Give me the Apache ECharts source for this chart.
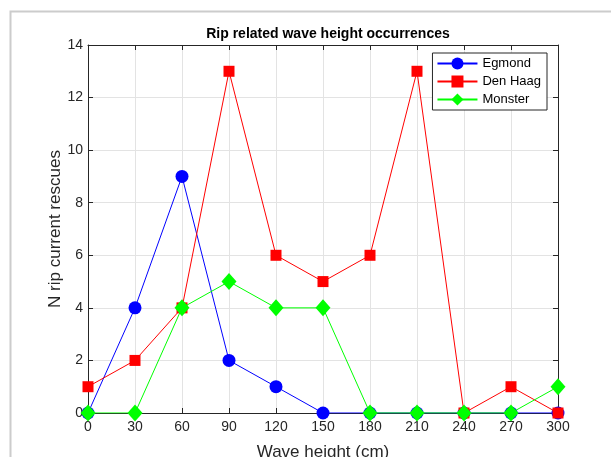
<!DOCTYPE html>
<html><head><meta charset="utf-8">
<script src="https://cdn.jsdelivr.net/npm/echarts@6/dist/echarts.min.js"></script>
<style>html,body{margin:0;padding:0;background:#fff}#c{width:611px;height:457px}</style>
</head><body><div id="c"></div>
<script>
const waveHeights = [0, 30, 60, 90, 120, 150, 180, 210, 240, 270, 300];
const egmond = [0, 4, 9, 2, 1, 0, 0, 0, 0, 0, 0];
const denHaag = [1, 2, 4, 13, 6, 5, 6, 13, 0, 1, 0];
const monster = [0, 0, 4, 5, 4, 4, 0, 0, 0, 0, 1];
const seriesNames = ['Egmond', 'Den Haag', 'Monster'];
const titleText = 'Rip related wave height occurrences';
const xLabel = 'Wave height (cm)';
const yLabel = 'N rip current rescues';

const pair = arr => waveHeights.map((x, i) => [x, arr[i]]);
const font = 'Liberation Sans, Arial, sans-serif';
const axCol = '#262626';
const chart = echarts.init(document.getElementById('c'));
const baseAxis = {
  nameMoveOverlap: false,
  axisLine: {show: true, onZero: false, lineStyle: {color: axCol, width: 1}},
  axisTick: {show: true, inside: true, length: 5, lineStyle: {color: axCol}},
};
chart.setOption({
  animation: false,
  backgroundColor: '#fff',
  graphic: [{type: 'rect', left: 8, top: 9, shape: {width: 700, height: 500}, style: {fill: 'none', stroke: '#cccccc', lineWidth: 2}, z: -1}],
  title: {text: titleText, left: 323, textAlign: 'center', top: 22, textStyle: {fontFamily: font, fontSize: 14, fontWeight: 'bold', color: '#000'}},
  grid: {left: 88, right: 53, top: 45, bottom: 44, containLabel: false, outerBoundsMode: 'none'},
  legend: {
    data: seriesNames, right: 64, top: 53, orient: 'vertical',
    backgroundColor: '#fff', borderColor: axCol, borderWidth: 1,
    padding: [4, 6, 4, 4], itemGap: 5, itemWidth: 40, itemHeight: 15,
    textStyle: {fontFamily: font, fontSize: 13, color: '#000'}
  },
  xAxis: [
    Object.assign({}, baseAxis, {type: 'value', min: 0, max: 300, interval: 30, position: 'bottom',
      name: xLabel, nameLocation: 'middle', nameGap: 31,
      nameTextStyle: {fontFamily: font, fontSize: 17, color: axCol},
      axisLabel: {color: axCol, fontSize: 14, fontFamily: font, margin: 7},
      splitLine: {show: true, lineStyle: {color: '#e3e3e3'}}}),
    Object.assign({}, baseAxis, {type: 'value', min: 0, max: 300, interval: 30, position: 'top',
      axisLabel: {show: false}, splitLine: {show: false}})
  ],
  yAxis: [
    Object.assign({}, baseAxis, {type: 'value', min: 0, max: 14, interval: 2, position: 'left',
      name: yLabel, nameLocation: 'middle', nameGap: 24,
      nameTextStyle: {fontFamily: font, fontSize: 17, color: axCol},
      axisLabel: {color: axCol, fontSize: 14, fontFamily: font, margin: 5},
      splitLine: {show: true, lineStyle: {color: '#e3e3e3'}}}),
    Object.assign({}, baseAxis, {type: 'value', min: 0, max: 14, interval: 2, position: 'right',
      axisLabel: {show: false}, splitLine: {show: false}})
  ],
  series: [
    {name: seriesNames[0], type: 'line', data: pair(egmond), symbol: 'circle', symbolSize: 13,
      color: '#0000ff', lineStyle: {color: '#0000ff', width: 1}, itemStyle: {color: '#0000ff'}, z: 2},
    {name: seriesNames[1], type: 'line', data: pair(denHaag), symbol: 'rect', symbolSize: 11,
      color: '#ff0000', lineStyle: {color: '#ff0000', width: 1}, itemStyle: {color: '#ff0000'}, z: 3},
    {name: seriesNames[2], type: 'line', data: pair(monster), symbol: 'diamond', symbolSize: [15, 17],
      color: '#00ff00', lineStyle: {color: '#00ff00', width: 1}, itemStyle: {color: '#00ff00'}, z: 4}
  ]
});
</script></body></html>
